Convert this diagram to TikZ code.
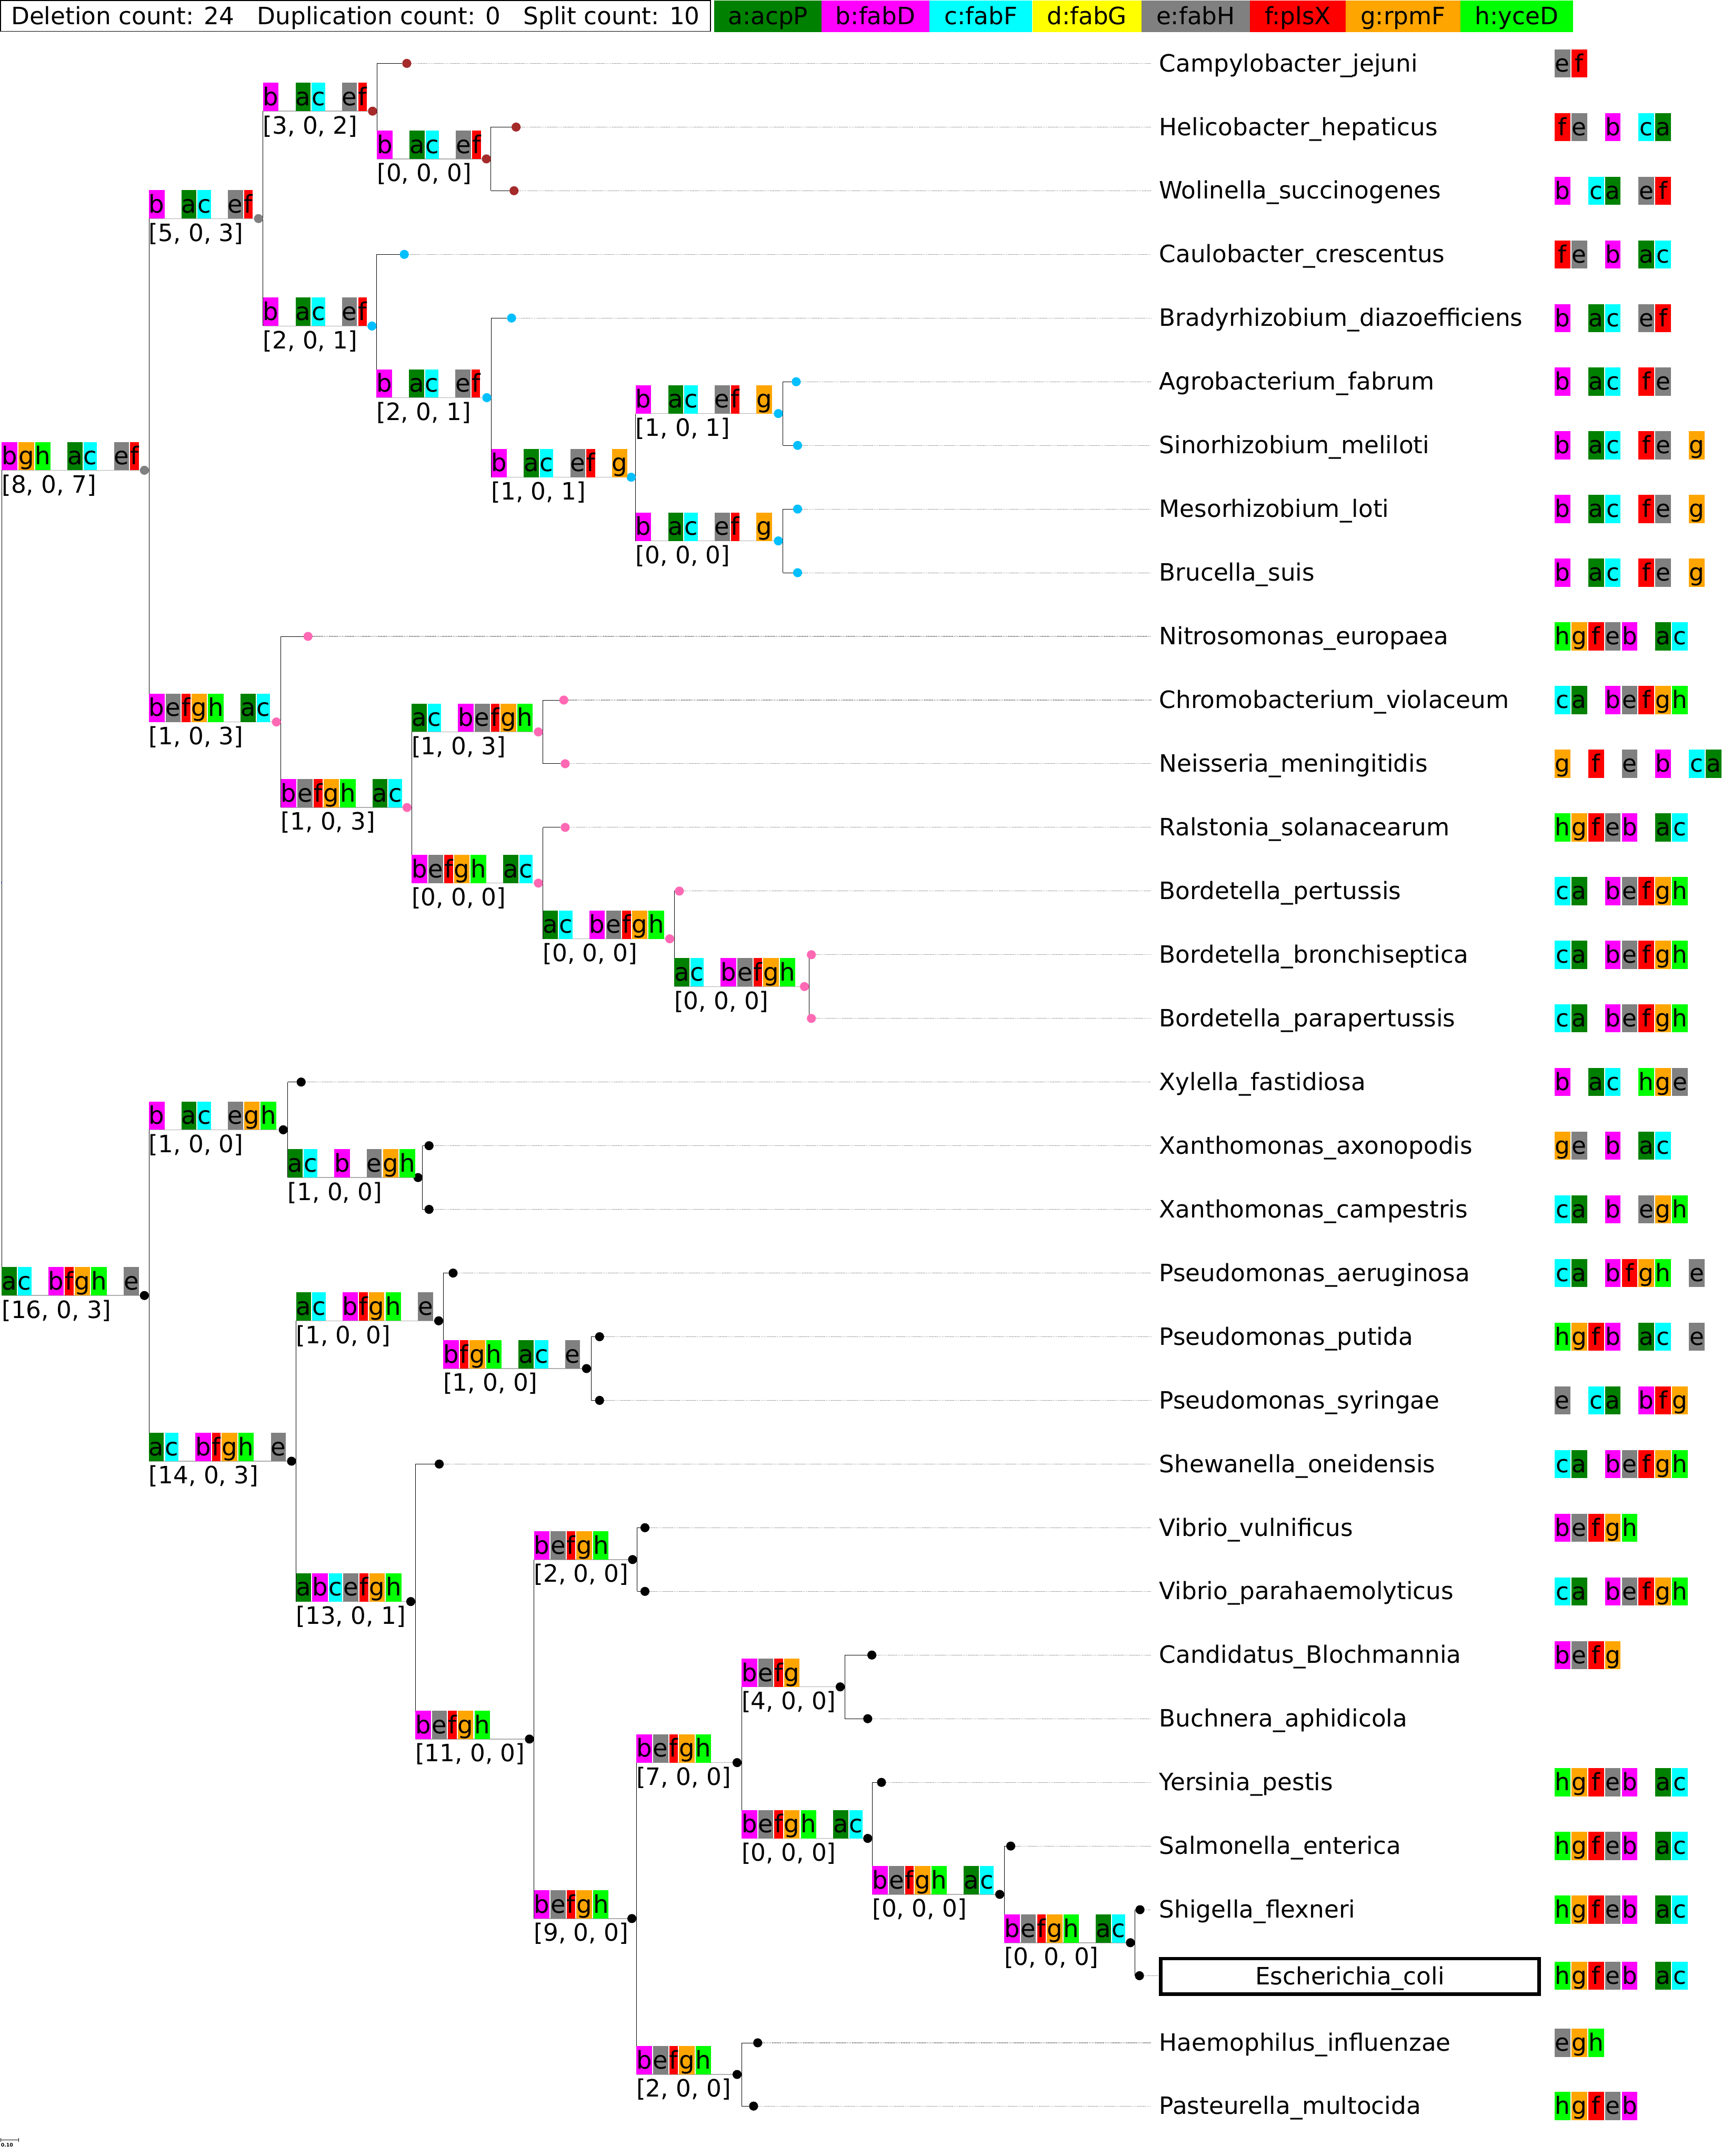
\documentclass[tikz,border=0pt]{standalone}
\usepackage{fontspec}
\setmainfont{DejaVu Sans}
\usetikzlibrary{calc}
\pgfdeclarelayer{bg}
\pgfsetlayers{bg,main}
\definecolor{ga}{RGB}{0,128,0}
\definecolor{gb}{RGB}{255,0,255}
\definecolor{gc}{RGB}{0,255,255}
\definecolor{gd}{RGB}{255,255,0}
\definecolor{ge}{RGB}{128,128,128}
\definecolor{gf}{RGB}{255,0,0}
\definecolor{gg}{RGB}{255,165,0}
\definecolor{gh}{RGB}{0,255,0}
\definecolor{cgray}{RGB}{128,128,128}
\definecolor{cbrown}{RGB}{165,42,42}
\definecolor{csky}{RGB}{0,191,255}
\definecolor{cpink}{RGB}{255,105,180}
\definecolor{cblue}{RGB}{20,40,210}
\definecolor{linegray}{RGB}{175,175,175}
\tikzset{
  txt/.style={font=\fontsize{19pt}{22pt}\selectfont, inner sep=0pt, outer sep=0pt},
  ibox/.style={font=\fontsize{19.5pt}{23pt}\selectfont, inner sep=0pt, outer sep=0pt, anchor=south west, text height=18.1pt, text depth=4.5pt},
  lbox/.style={txt, minimum width=12.52pt, text height=17.8pt, text depth=4.6pt, anchor=center},
  dotn/.style={circle, inner sep=0pt, outer sep=0pt, minimum size=7.2pt},
  vline/.style={black, line width=0.4pt},
  ibranch/.style={linegray, line width=0.6pt},
  lbranch/.style={black, line width=0.4pt},
  ldash/.style={cgray, line width=0.45pt, dash pattern=on 0.7pt off 0.6pt},
  legcell/.style={txt, anchor=north west, minimum height=25.1pt, text height=17.6pt, text depth=4.5pt},
  leafname/.style={txt, anchor=west, text height=17.6pt, text depth=4.5pt},
}
\newcommand\igenes[2]{%
  \xdef\gprev{s-#1}\xdef\ggap{0}%
  \foreach \c in {#2}{%
    \if\c-\xdef\ggap{12.3}\else
      \node[ibox, fill=g\c] (b-#1-\c) at ($(\gprev.south east)+(\ggap,0)$) {\c};%
      \xdef\gprev{b-#1-\c}\xdef\ggap{0.8}%
    \fi}%
}
\newcommand\inode[7]{%
  \node[dotn, fill=#5] (d-#1) at (#3,#4) {};
  \coordinate (v-#1) at (#3+3.3,#4);
  \node[inner sep=0pt, outer sep=0pt, minimum size=0pt] (s-#1) at (v-#2 |- d-#1) {};
  \begin{pgfonlayer}{bg}\draw[ibranch] (s-#1) -- (d-#1);\end{pgfonlayer}
  \igenes{#1}{#6}%
  \node[txt, anchor=base west] (t-#1) at ($(s-#1)+(0,16.4)$) {#7};
}
\newcommand\lgenes[3]{%
  \foreach \c [count=\k from 0] in {#3}{%
    \if\c-\else
      \node[lbox, fill=g\c] (g-#1-\k) at (1136.2+12.21*\k,#2) {\c};%
    \fi}%
}
\newcommand\leaf[7]{%
  \node[dotn, fill=#5] (d-#1) at (#3,#4) {};
  \node[leafname] (l-#1) at (843,#4) {#6};
  \coordinate (e-#1) at (837,#4);
  \begin{pgfonlayer}{bg}
    \draw[lbranch] (v-#2 |- d-#1) -- (d-#1);
    \draw[ldash] (d-#1) -- (e-#1);
  \end{pgfonlayer}
  \lgenes{#1}{#4}{#7}%
}
\newcommand\vl[3]{\begin{pgfonlayer}{bg}\draw[vline] (v-#1 |- d-#2) -- (v-#1 |- d-#3);\end{pgfonlayer}}
\begin{document}
\begin{tikzpicture}[x=0.385mm, y=-0.385mm]
\useasboundingbox (0,0) rectangle (1252,1567.6);
\begin{pgfonlayer}{bg}\fill[white] (0,0) rectangle (1252,1567.6);\end{pgfonlayer}
% legend
\node[txt, draw=black, line width=0.8pt, anchor=north west, minimum width=565.4pt, minimum height=24.4pt, text height=17.6pt, text depth=4.5pt] (stats) at (0.4,0.5) {Deletion count: 24\hspace{0.954em}Duplication count: 0\hspace{0.954em}Split count: 10};
\node[legcell, fill=ga, minimum width=85.3pt] (k-a) at (519.5,0.3) {a:acpP};
\node[legcell, fill=gb, minimum width=86.1pt] (k-b) at (597.4,0.3) {b:fabD};
\node[legcell, fill=gc, minimum width=81.8pt] (k-c) at (676.0,0.3) {c:fabF};
\node[legcell, fill=gd, minimum width=86.9pt] (k-d) at (750.7,0.3) {d:fabG};
\node[legcell, fill=ge, minimum width=86.5pt] (k-e) at (830.0,0.3) {e:fabH};
\node[legcell, fill=gf, minimum width=76.1pt] (k-f) at (909.0,0.3) {f:plsX};
\node[legcell, fill=gg, minimum width=91.5pt] (k-g) at (978.5,0.3) {g:rpmF};
\node[legcell, fill=gh, minimum width=89.8pt] (k-h) at (1062.0,0.3) {h:yceD};
% root
\coordinate (v-R) at (1.3,641.93);
\node[fill=cblue, inner sep=0pt, outer sep=0pt, minimum size=0.8pt] (root) at (1.0,641.93) {};
% internal nodes
\inode{N1}{R}{105.0}{341.93}{cgray}{b,g,h,-,a,c,-,e,f}{[8, 0, 7]}
\inode{N2}{N1}{188.0}{158.94}{cgray}{b,-,a,c,-,e,f}{[5, 0, 3]}
\inode{N3}{N2}{270.9}{80.82}{cbrown}{b,-,a,c,-,e,f}{[3, 0, 2]}
\inode{N4}{N3}{353.7}{115.54}{cbrown}{b,-,a,c,-,e,f}{[0, 0, 0]}
\inode{N5}{N2}{270.5}{237.05}{csky}{b,-,a,c,-,e,f}{[2, 0, 1]}
\inode{N6}{N5}{354.0}{289.13}{csky}{b,-,a,c,-,e,f}{[2, 0, 1]}
\inode{N7}{N6}{459.0}{346.99}{csky}{b,-,a,c,-,e,f,-,g}{[1, 0, 1]}
\inode{N8}{N7}{566.0}{300.70}{csky}{b,-,a,c,-,e,f,-,g}{[1, 0, 1]}
\inode{N9}{N7}{566.0}{393.28}{csky}{b,-,a,c,-,e,f,-,g}{[0, 0, 0]}
\inode{N10}{N1}{201.0}{524.92}{cpink}{b,e,f,g,h,-,a,c}{[1, 0, 3]}
\inode{N11}{N10}{296.0}{587.12}{cpink}{b,e,f,g,h,-,a,c}{[1, 0, 3]}
\inode{N12}{N11}{391.5}{532.15}{cpink}{a,c,-,b,e,f,g,h}{[1, 0, 3]}
\inode{N13}{N11}{391.5}{642.09}{cpink}{b,e,f,g,h,-,a,c}{[0, 0, 0]}
\inode{N14}{N13}{487.0}{682.59}{cpink}{a,c,-,b,e,f,g,h}{[0, 0, 0]}
\inode{N15}{N14}{585.0}{717.31}{cpink}{a,c,-,b,e,f,g,h}{[0, 0, 0]}
\inode{N16}{R}{105.0}{941.93}{black}{a,c,-,b,f,g,h,-,e}{[16, 0, 3]}
\inode{N17}{N16}{206.0}{821.46}{black}{b,-,a,c,-,e,g,h}{[1, 0, 0]}
\inode{N18}{N17}{304.0}{856.18}{black}{a,c,-,b,-,e,g,h}{[1, 0, 0]}
\inode{N19}{N16}{212.0}{1062.40}{black}{a,c,-,b,f,g,h,-,e}{[14, 0, 3]}
\inode{N20}{N19}{319.0}{960.33}{black}{a,c,-,b,f,g,h,-,e}{[1, 0, 0]}
\inode{N21}{N20}{426.5}{995.05}{black}{b,f,g,h,-,a,c,-,e}{[1, 0, 0]}
\inode{N22}{N19}{298.7}{1164.46}{black}{a,b,c,e,f,g,h}{[13, 0, 1]}
\inode{N23}{N22}{385.0}{1264.43}{black}{b,e,f,g,h}{[11, 0, 0]}
\inode{N24}{N23}{460.0}{1133.92}{black}{b,e,f,g,h}{[2, 0, 0]}
\inode{N25}{N23}{459.5}{1394.94}{black}{b,e,f,g,h}{[9, 0, 0]}
\inode{N26}{N25}{536.0}{1281.57}{black}{b,e,f,g,h}{[7, 0, 0]}
\inode{N27}{N26}{611.0}{1226.50}{black}{b,e,f,g}{[4, 0, 0]}
\inode{N28}{N26}{631.0}{1336.65}{black}{b,e,f,g,h,-,a,c}{[0, 0, 0]}
\inode{N29}{N28}{727.0}{1377.36}{black}{b,e,f,g,h,-,a,c}{[0, 0, 0]}
\inode{N30}{N29}{822.0}{1412.50}{black}{b,e,f,g,h,-,a,c}{[0, 0, 0]}
\inode{N31}{N25}{536.0}{1508.30}{black}{b,e,f,g,h}{[2, 0, 0]}
% leaves
\leaf{L0}{N3}{295.8}{46.10}{cbrown}{Campylobacter\_jejuni}{e,f}
\leaf{L1}{N4}{375.3}{92.39}{cbrown}{Helicobacter\_hepaticus}{f,e,-,b,-,c,a}
\leaf{L2}{N4}{373.8}{138.68}{cbrown}{Wolinella\_succinogenes}{b,-,c,a,-,e,f}
\leaf{L3}{N5}{294.0}{184.97}{csky}{Caulobacter\_crescentus}{f,e,-,b,-,a,c}
\leaf{L4}{N6}{372.0}{231.26}{csky}{Bradyrhizobium\_diazoefficiens}{b,-,a,c,-,e,f}
\leaf{L5}{N8}{579.0}{277.55}{csky}{Agrobacterium\_fabrum}{b,-,a,c,-,f,e}
\leaf{L6}{N8}{580.0}{323.84}{csky}{Sinorhizobium\_meliloti}{b,-,a,c,-,f,e,-,g}
\leaf{L7}{N9}{580.0}{370.13}{csky}{Mesorhizobium\_loti}{b,-,a,c,-,f,e,-,g}
\leaf{L8}{N9}{580.0}{416.42}{csky}{Brucella\_suis}{b,-,a,c,-,f,e,-,g}
\leaf{L9}{N10}{224.0}{462.71}{cpink}{Nitrosomonas\_europaea}{h,g,f,e,b,-,a,c}
\leaf{L10}{N12}{410.0}{509.00}{cpink}{Chromobacterium\_violaceum}{c,a,-,b,e,f,g,h}
\leaf{L11}{N12}{411.0}{555.29}{cpink}{Neisseria\_meningitidis}{g,-,f,-,e,-,b,-,c,a}
\leaf{L12}{N13}{411.0}{601.58}{cpink}{Ralstonia\_solanacearum}{h,g,f,e,b,-,a,c}
\leaf{L13}{N14}{494.0}{647.87}{cpink}{Bordetella\_pertussis}{c,a,-,b,e,f,g,h}
\leaf{L14}{N15}{590.0}{694.16}{cpink}{Bordetella\_bronchiseptica}{c,a,-,b,e,f,g,h}
\leaf{L15}{N15}{590.0}{740.45}{cpink}{Bordetella\_parapertussis}{c,a,-,b,e,f,g,h}
\leaf{L16}{N17}{219.0}{786.74}{black}{Xylella\_fastidiosa}{b,-,a,c,-,h,g,e}
\leaf{L17}{N18}{312.0}{833.03}{black}{Xanthomonas\_axonopodis}{g,e,-,b,-,a,c}
\leaf{L18}{N18}{312.0}{879.32}{black}{Xanthomonas\_campestris}{c,a,-,b,-,e,g,h}
\leaf{L19}{N20}{329.5}{925.61}{black}{Pseudomonas\_aeruginosa}{c,a,-,b,f,g,h,-,e}
\leaf{L20}{N21}{436.0}{971.90}{black}{Pseudomonas\_putida}{h,g,f,b,-,a,c,-,e}
\leaf{L21}{N21}{436.0}{1018.19}{black}{Pseudomonas\_syringae}{e,-,c,a,-,b,f,g}
\leaf{L22}{N22}{319.4}{1064.48}{black}{Shewanella\_oneidensis}{c,a,-,b,e,f,g,h}
\leaf{L23}{N24}{469.0}{1110.77}{black}{Vibrio\_vulnificus}{b,e,f,g,h}
\leaf{L24}{N24}{469.0}{1157.06}{black}{Vibrio\_parahaemolyticus}{c,a,-,b,e,f,g,h}
\leaf{L25}{N27}{634.0}{1203.35}{black}{Candidatus\_Blochmannia}{b,e,f,g}
\leaf{L26}{N27}{631.0}{1249.64}{black}{Buchnera\_aphidicola}{-}
\leaf{L27}{N28}{641.0}{1295.93}{black}{Yersinia\_pestis}{h,g,f,e,b,-,a,c}
\leaf{L28}{N29}{735.0}{1342.22}{black}{Salmonella\_enterica}{h,g,f,e,b,-,a,c}
\leaf{L29}{N30}{829.0}{1388.51}{black}{Shigella\_flexneri}{h,g,f,e,b,-,a,c}
% Escherichia coli (highlighted)
\node[dotn, fill=black] (d-L30) at (828.6,1436.5) {};
\node[txt, draw=black, line width=2.85pt, minimum width=301.6pt, minimum height=28.4pt, text height=17.6pt, text depth=4.5pt] (l-L30) at (981.6,1437.0) {Escherichia\_coli};
\coordinate (e-L30) at (842.6,1436.5);
\begin{pgfonlayer}{bg}
  \draw[lbranch] (v-N30 |- d-L30) -- (d-L30);
  \draw[ldash] (d-L30) -- (e-L30);
\end{pgfonlayer}
\lgenes{L30}{1436.5}{h,g,f,e,b,-,a,c}
\leaf{L31}{N31}{551.0}{1485.30}{black}{Haemophilus\_influenzae}{e,g,h}
\leaf{L32}{N31}{548.0}{1531.30}{black}{Pasteurella\_multocida}{h,g,f,e,b}
% vertical connectors
\vl{R}{N1}{N16}
\vl{N1}{N2}{N10}
\vl{N2}{N3}{N5}
\vl{N3}{L0}{N4}
\vl{N4}{L1}{L2}
\vl{N5}{L3}{N6}
\vl{N6}{L4}{N7}
\vl{N7}{N8}{N9}
\vl{N8}{L5}{L6}
\vl{N9}{L7}{L8}
\vl{N10}{L9}{N11}
\vl{N11}{N12}{N13}
\vl{N12}{L10}{L11}
\vl{N13}{L12}{N14}
\vl{N14}{L13}{N15}
\vl{N15}{L14}{L15}
\vl{N16}{N17}{N19}
\vl{N17}{L16}{N18}
\vl{N18}{L17}{L18}
\vl{N19}{N20}{N22}
\vl{N20}{L19}{N21}
\vl{N21}{L20}{L21}
\vl{N22}{L22}{N23}
\vl{N23}{N24}{N25}
\vl{N24}{L23}{L24}
\vl{N25}{N26}{N31}
\vl{N26}{N27}{N28}
\vl{N27}{L25}{L26}
\vl{N28}{L27}{N29}
\vl{N29}{L28}{N30}
\vl{N30}{L29}{L30}
\vl{N31}{L31}{L32}
% scale bar
\coordinate (sbL) at (0.5,1555.9);
\coordinate (sbR) at (13.5,1555.9);
\draw[black, line width=0.35pt] (sbL) -- (sbR);
\draw[black, line width=0.35pt] ([yshift=1.3pt]sbL) -- ([yshift=-1.4pt]sbL);
\draw[black, line width=0.35pt] ([yshift=1.3pt]sbR) -- ([yshift=-1.4pt]sbR);
\node[inner sep=0pt, outer sep=0pt, anchor=base west, font=\fontsize{3.9pt}{4.5pt}\selectfont\bfseries] (sbt) at (0.7,1560.8) {0.10};
\end{tikzpicture}
\end{document}
